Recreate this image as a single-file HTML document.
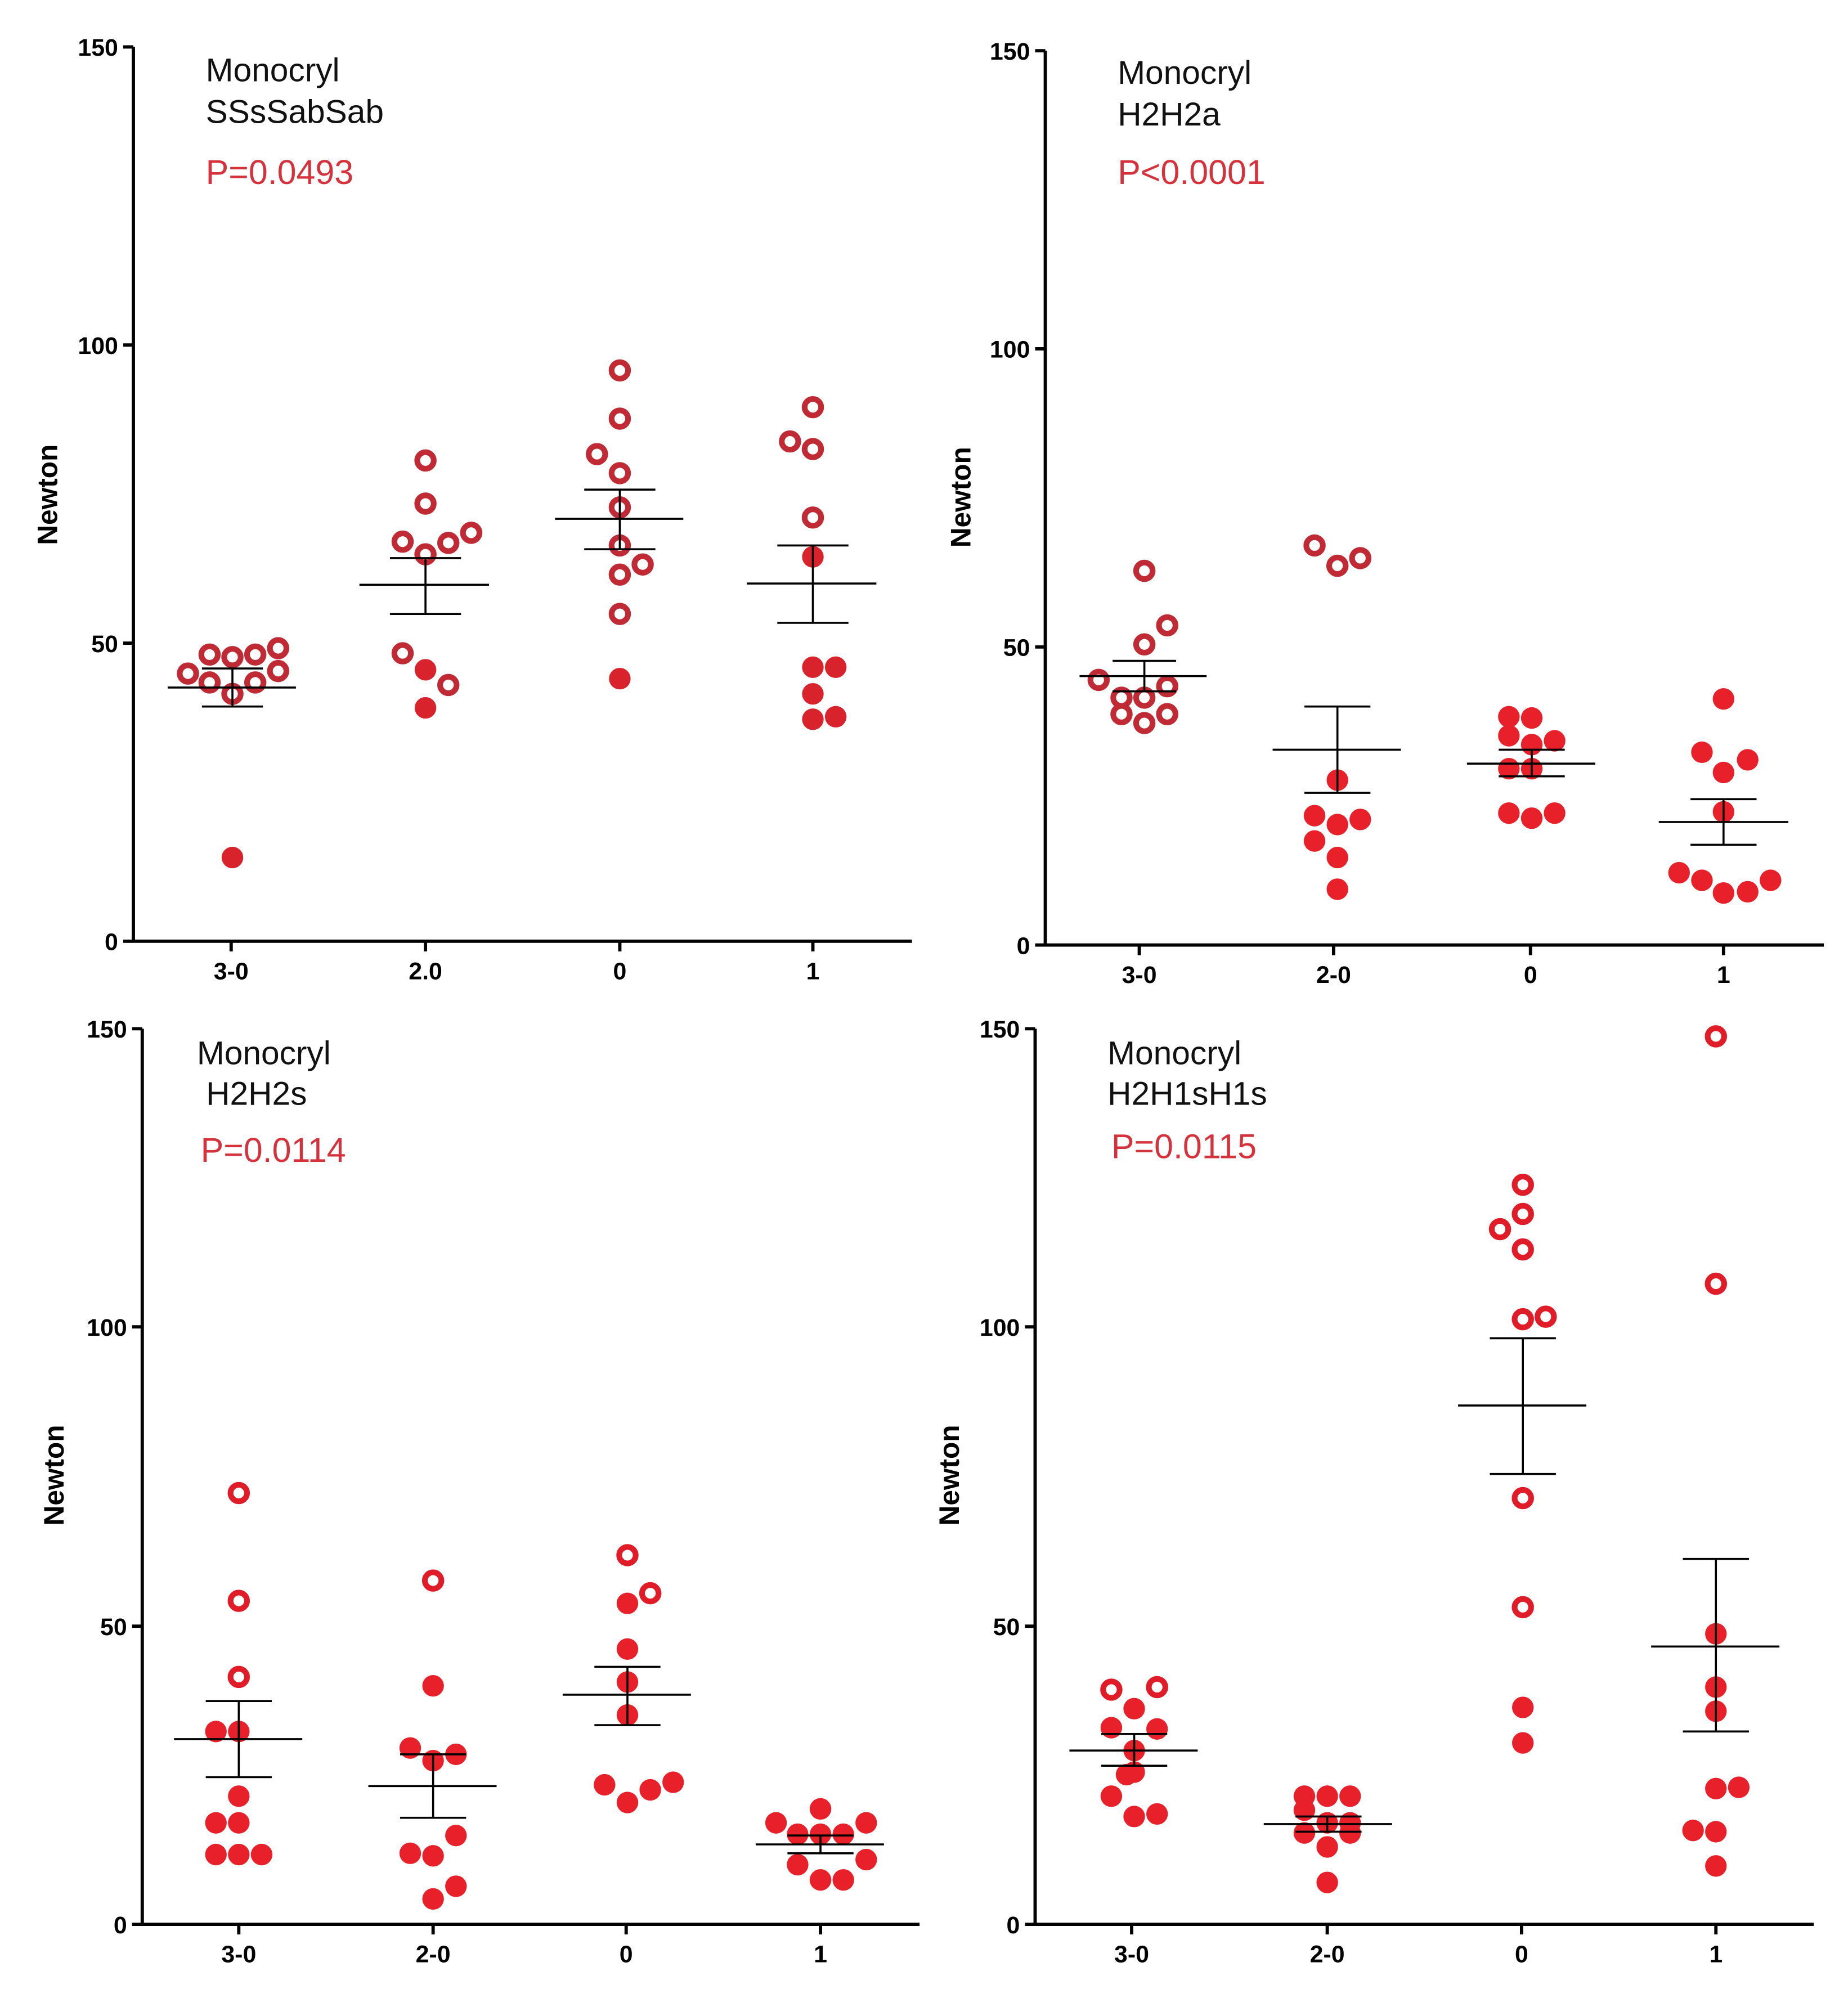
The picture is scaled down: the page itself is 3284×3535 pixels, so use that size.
<!DOCTYPE html>
<html><head><meta charset="utf-8"><style>
html,body{margin:0;padding:0;background:#fff}
svg{display:block}
text{font-family:"Liberation Sans",Arial,sans-serif}
.t{font-size:19px;font-weight:bold;fill:#000}
.n{font-size:22px;font-weight:bold;fill:#000}
.h{font-size:26px;fill:#111}
.p{font-size:27px;fill:#d5323c}
.ax{stroke:#000;stroke-width:2.6;fill:none}
.m{stroke:#000;stroke-width:1.6}
.f{fill:#e8202a}
.o{fill:#fff;stroke:#e01c28;stroke-width:4.5}
.o1{fill:#fff;stroke:#c02a34;stroke-width:4.5}
.f1{fill:#d8222c}
</style></head><body>
<svg width="3284" height="3535" viewBox="0 0 1455 1568" preserveAspectRatio="none" xmlns="http://www.w3.org/2000/svg">
<rect width="1455" height="1568" fill="#fff"/>

<!-- Panel 1 -->
<g>
<path class="ax" d="M105,37 V742 H718 M97,37 H105 M97,272 H105 M97,507 H105 M97,742 H105 M182,742 V750 M335,742 V750 M488,742 V750 M640,742 V750"/>
<text class="t" x="93" y="44" text-anchor="end">150</text>
<text class="t" x="93" y="279" text-anchor="end">100</text>
<text class="t" x="93" y="514" text-anchor="end">50</text>
<text class="t" x="93" y="749" text-anchor="end">0</text>
<text class="t" x="182" y="772" text-anchor="middle">3-0</text>
<text class="t" x="335" y="772" text-anchor="middle">2.0</text>
<text class="t" x="488" y="772" text-anchor="middle">0</text>
<text class="t" x="640" y="772" text-anchor="middle">1</text>
<text class="n" transform="translate(45,390) rotate(-90)" text-anchor="middle">Newton</text>
<text class="h" x="162" y="64">Monocryl</text>
<text class="h" x="162" y="97">SSsSabSab</text>
<text class="p" x="162" y="145">P=0.0493</text>
<g class="o1">
<circle cx="148" cy="531" r="6.5"/><circle cx="165" cy="516" r="6.5"/><circle cx="183" cy="518" r="6.5"/><circle cx="201" cy="516" r="6.5"/><circle cx="219" cy="511" r="6.5"/><circle cx="165" cy="538" r="6.5"/><circle cx="201" cy="538" r="6.5"/><circle cx="219" cy="529" r="6.5"/><circle cx="183" cy="547" r="6.5"/>
<circle cx="335" cy="363" r="6.5"/><circle cx="335" cy="397" r="6.5"/><circle cx="317" cy="427" r="6.5"/><circle cx="335" cy="437" r="6.5"/><circle cx="353" cy="428" r="6.5"/><circle cx="371" cy="420" r="6.5"/><circle cx="317" cy="515" r="6.5"/><circle cx="353" cy="540" r="6.5"/>
<circle cx="488" cy="292" r="6.5"/><circle cx="488" cy="330" r="6.5"/><circle cx="470" cy="358" r="6.5"/><circle cx="488" cy="373" r="6.5"/><circle cx="488" cy="400" r="6.5"/><circle cx="488" cy="430" r="6.5"/><circle cx="506" cy="445" r="6.5"/><circle cx="488" cy="453" r="6.5"/><circle cx="488" cy="484" r="6.5"/>
<circle cx="640" cy="321" r="6.5"/><circle cx="622" cy="348" r="6.5"/><circle cx="640" cy="354" r="6.5"/><circle cx="640" cy="408" r="6.5"/>
</g>
<g class="f1">
<circle cx="183" cy="676" r="8.5"/><circle cx="335" cy="528" r="8.5"/><circle cx="335" cy="558" r="8.5"/><circle cx="488" cy="535" r="8.5"/>
<circle cx="640" cy="439" r="8.5"/><circle cx="640" cy="526" r="8.5"/><circle cx="658" cy="526" r="8.5"/><circle cx="640" cy="547" r="8.5"/><circle cx="640" cy="567" r="8.5"/><circle cx="658" cy="565" r="8.5"/>
</g>
<path class="m" d="M132,542H233 M159,527H207 M159,557H207 M183,527V557
M283,461H385 M307,440H363 M307,484H363 M335,440V484
M437,409H538 M460,386H516 M460,433H516 M488,386V433
M588,460H690 M612,430H668 M612,491H668 M640,430V491"/>
</g>

<!-- Panel 2 -->
<g>
<path class="ax" d="M823,40 V745 H1436 M815,40 H823 M815,275 H823 M815,510 H823 M815,745 H823 M897,745 V753 M1050,745 V753 M1205,745 V753 M1357,745 V753"/>
<text class="t" x="811" y="47" text-anchor="end">150</text>
<text class="t" x="811" y="282" text-anchor="end">100</text>
<text class="t" x="811" y="517" text-anchor="end">50</text>
<text class="t" x="811" y="752" text-anchor="end">0</text>
<text class="t" x="897" y="775" text-anchor="middle">3-0</text>
<text class="t" x="1050" y="775" text-anchor="middle">2-0</text>
<text class="t" x="1205" y="775" text-anchor="middle">0</text>
<text class="t" x="1357" y="775" text-anchor="middle">1</text>
<text class="n" transform="translate(764,392) rotate(-90)" text-anchor="middle">Newton</text>
<text class="h" x="880" y="66">Monocryl</text>
<text class="h" x="880" y="99">H2H2a</text>
<text class="p" x="880" y="145">P&lt;0.0001</text>
<g class="o1">
<circle cx="901" cy="450" r="6.5"/><circle cx="919" cy="493" r="6.5"/><circle cx="901" cy="508" r="6.5"/><circle cx="865" cy="536" r="6.5"/><circle cx="883" cy="550" r="6.5"/><circle cx="901" cy="550" r="6.5"/><circle cx="919" cy="541" r="6.5"/><circle cx="883" cy="563" r="6.5"/><circle cx="901" cy="570" r="6.5"/><circle cx="919" cy="563" r="6.5"/>
<circle cx="1035" cy="430" r="6.5"/><circle cx="1053" cy="446" r="6.5"/><circle cx="1071" cy="440" r="6.5"/>
</g>
<g class="f">
<circle cx="1053" cy="615" r="8.5"/><circle cx="1035" cy="643" r="8.5"/><circle cx="1053" cy="650" r="8.5"/><circle cx="1071" cy="646" r="8.5"/><circle cx="1035" cy="663" r="8.5"/><circle cx="1053" cy="676" r="8.5"/><circle cx="1053" cy="701" r="8.5"/>
<circle cx="1188" cy="565" r="8.5"/><circle cx="1206" cy="566" r="8.5"/><circle cx="1188" cy="580" r="8.5"/><circle cx="1206" cy="587" r="8.5"/><circle cx="1224" cy="584" r="8.5"/><circle cx="1188" cy="606" r="8.5"/><circle cx="1206" cy="606" r="8.5"/><circle cx="1188" cy="641" r="8.5"/><circle cx="1206" cy="645" r="8.5"/><circle cx="1224" cy="641" r="8.5"/>
<circle cx="1357" cy="551" r="8.5"/><circle cx="1340" cy="593" r="8.5"/><circle cx="1376" cy="599" r="8.5"/><circle cx="1357" cy="609" r="8.5"/><circle cx="1357" cy="640" r="8.5"/><circle cx="1322" cy="688" r="8.5"/><circle cx="1340" cy="694" r="8.5"/><circle cx="1357" cy="704" r="8.5"/><circle cx="1376" cy="703" r="8.5"/><circle cx="1394" cy="694" r="8.5"/>
</g>
<path class="m" d="M850,533H950 M876,521H926 M876,545H926 M901,521V545
M1002,591H1103 M1027,557H1079 M1027,625H1079 M1053,557V625
M1155,602H1256 M1180,591H1232 M1180,612H1232 M1206,591V612
M1306,648H1408 M1331,630H1383 M1331,666H1383 M1357,630V666"/>
</g>

<!-- Panel 3 -->
<g>
<path class="ax" d="M112,811 V1517 H724 M104,811 H112 M104,1046 H112 M104,1282 H112 M104,1517 H112 M188,1517 V1525 M341,1517 V1525 M493,1517 V1525 M646,1517 V1525"/>
<text class="t" x="100" y="818" text-anchor="end">150</text>
<text class="t" x="100" y="1053" text-anchor="end">100</text>
<text class="t" x="100" y="1289" text-anchor="end">50</text>
<text class="t" x="100" y="1524" text-anchor="end">0</text>
<text class="t" x="188" y="1547" text-anchor="middle">3-0</text>
<text class="t" x="341" y="1547" text-anchor="middle">2-0</text>
<text class="t" x="493" y="1547" text-anchor="middle">0</text>
<text class="t" x="646" y="1547" text-anchor="middle">1</text>
<text class="n" transform="translate(50,1163) rotate(-90)" text-anchor="middle">Newton</text>
<text class="h" x="155" y="839">Monocryl</text>
<text class="h" x="155" y="871">&#160;H2H2s</text>
<text class="p" x="158" y="916">P=0.0114</text>
<g class="o">
<circle cx="188" cy="1177" r="6.5"/><circle cx="188" cy="1262" r="6.5"/><circle cx="188" cy="1322" r="6.5"/>
<circle cx="341" cy="1246" r="6.5"/>
<circle cx="494" cy="1226" r="6.5"/><circle cx="512" cy="1256" r="6.5"/>
</g>
<g class="f">
<circle cx="170" cy="1365" r="8.5"/><circle cx="188" cy="1365" r="8.5"/><circle cx="188" cy="1416" r="8.5"/><circle cx="170" cy="1437" r="8.5"/><circle cx="188" cy="1437" r="8.5"/><circle cx="188" cy="1462" r="8.5"/><circle cx="206" cy="1462" r="8.5"/><circle cx="170" cy="1462" r="8.5"/>
<circle cx="341" cy="1329" r="8.5"/><circle cx="323" cy="1378" r="8.5"/><circle cx="341" cy="1388" r="8.5"/><circle cx="359" cy="1383" r="8.5"/><circle cx="323" cy="1461" r="8.5"/><circle cx="341" cy="1463" r="8.5"/><circle cx="359" cy="1447" r="8.5"/><circle cx="341" cy="1497" r="8.5"/><circle cx="359" cy="1487" r="8.5"/>
<circle cx="494" cy="1264" r="8.5"/><circle cx="494" cy="1300" r="8.5"/><circle cx="494" cy="1326" r="8.5"/><circle cx="494" cy="1352" r="8.5"/><circle cx="476" cy="1407" r="8.5"/><circle cx="512" cy="1411" r="8.5"/><circle cx="530" cy="1405" r="8.5"/><circle cx="494" cy="1421" r="8.5"/>
<circle cx="646" cy="1426" r="8.5"/><circle cx="611" cy="1437" r="8.5"/><circle cx="628" cy="1446" r="8.5"/><circle cx="646" cy="1446" r="8.5"/><circle cx="664" cy="1446" r="8.5"/><circle cx="682" cy="1437" r="8.5"/><circle cx="628" cy="1470" r="8.5"/><circle cx="646" cy="1482" r="8.5"/><circle cx="664" cy="1482" r="8.5"/><circle cx="682" cy="1466" r="8.5"/>
</g>
<path class="m" d="M137,1371H238 M162,1341H214 M162,1401H214 M188,1341V1401
M290,1408H391 M315,1383H367 M315,1433H367 M341,1383V1433
M443,1336H544 M468,1314H520 M468,1360H520 M494,1314V1360
M595,1454H696 M620,1447H672 M620,1461H672 M646,1447V1461"/>
</g>

<!-- Panel 4 -->
<g>
<path class="ax" d="M815,811 V1517 H1428 M807,811 H815 M807,1046 H815 M807,1282 H815 M807,1517 H815 M891,1517 V1525 M1045,1517 V1525 M1198,1517 V1525 M1351,1517 V1525"/>
<text class="t" x="803" y="818" text-anchor="end">150</text>
<text class="t" x="803" y="1053" text-anchor="end">100</text>
<text class="t" x="803" y="1289" text-anchor="end">50</text>
<text class="t" x="803" y="1524" text-anchor="end">0</text>
<text class="t" x="891" y="1547" text-anchor="middle">3-0</text>
<text class="t" x="1045" y="1547" text-anchor="middle">2-0</text>
<text class="t" x="1198" y="1547" text-anchor="middle">0</text>
<text class="t" x="1351" y="1547" text-anchor="middle">1</text>
<text class="n" transform="translate(755,1163) rotate(-90)" text-anchor="middle">Newton</text>
<text class="h" x="872" y="839">Monocryl</text>
<text class="h" x="872" y="871">H2H1sH1s</text>
<text class="p" x="875" y="913">P=0.0115</text>
<g class="o">
<circle cx="875" cy="1332" r="6.5"/><circle cx="911" cy="1330" r="6.5"/>
<circle cx="1199" cy="934" r="6.5"/><circle cx="1199" cy="957" r="6.5"/><circle cx="1181" cy="969" r="6.5"/><circle cx="1199" cy="985" r="6.5"/><circle cx="1199" cy="1040" r="6.5"/><circle cx="1217" cy="1038" r="6.5"/><circle cx="1199" cy="1181" r="6.5"/><circle cx="1199" cy="1267" r="6.5"/>
<circle cx="1351" cy="817" r="6.5"/><circle cx="1351" cy="1012" r="6.5"/>
</g>
<g class="f">
<circle cx="893" cy="1347" r="8.5"/><circle cx="875" cy="1362" r="8.5"/><circle cx="911" cy="1363" r="8.5"/><circle cx="893" cy="1380" r="8.5"/><circle cx="893" cy="1397" r="8.5"/><circle cx="887" cy="1399" r="8.5"/><circle cx="875" cy="1416" r="8.5"/><circle cx="893" cy="1432" r="8.5"/><circle cx="911" cy="1430" r="8.5"/>
<circle cx="1027" cy="1416" r="8.5"/><circle cx="1045" cy="1416" r="8.5"/><circle cx="1063" cy="1416" r="8.5"/><circle cx="1027" cy="1427" r="8.5"/><circle cx="1045" cy="1437" r="8.5"/><circle cx="1063" cy="1437" r="8.5"/><circle cx="1027" cy="1445" r="8.5"/><circle cx="1063" cy="1445" r="8.5"/><circle cx="1045" cy="1456" r="8.5"/><circle cx="1045" cy="1484" r="8.5"/>
<circle cx="1199" cy="1346" r="8.5"/><circle cx="1199" cy="1374" r="8.5"/>
<circle cx="1351" cy="1288" r="8.5"/><circle cx="1351" cy="1330" r="8.5"/><circle cx="1351" cy="1349" r="8.5"/><circle cx="1351" cy="1410" r="8.5"/><circle cx="1369" cy="1409" r="8.5"/><circle cx="1333" cy="1443" r="8.5"/><circle cx="1351" cy="1444" r="8.5"/><circle cx="1351" cy="1471" r="8.5"/>
</g>
<path class="m" d="M842,1380H943 M867,1367H919 M867,1392H919 M893,1367V1392
M995,1438H1096 M1020,1432H1072 M1020,1444H1072 M1045,1432V1444
M1148,1108H1249 M1173,1055H1225 M1173,1162H1225 M1199,1055V1162
M1300,1298H1401 M1325,1229H1377 M1325,1365H1377 M1351,1229V1365"/>
</g>
</svg>
</body></html>
